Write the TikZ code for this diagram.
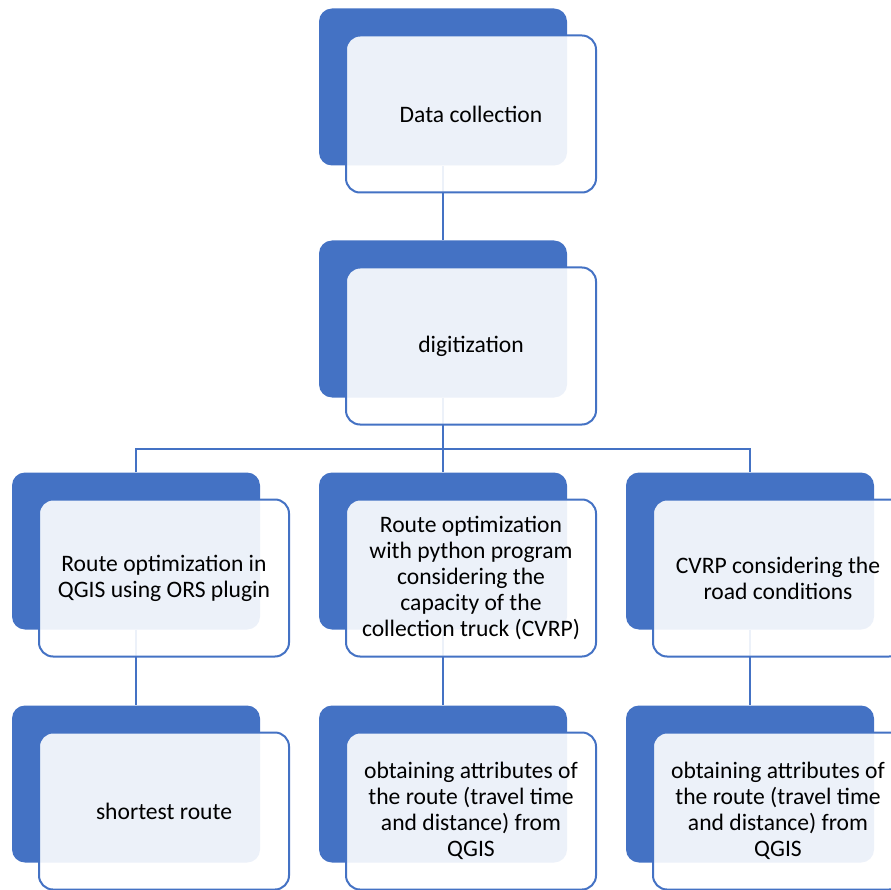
\documentclass[tikz,border=0pt]{standalone}
\usepackage{fontspec}
\setmainfont{Carlito}
\definecolor{smartblue}{HTML}{4472C4}

\begin{document}
\begin{tikzpicture}[x=1pt,y=-1pt]
\tikzstyle{every node}=[font=\fontsize{23.6}{26}\selectfont, align=center]
\tikzstyle{backbox}=[fill=smartblue, rounded corners=13pt, minimum width=248pt, minimum height=157pt, inner sep=0pt]
\tikzstyle{frontbox}=[draw=smartblue, line width=2pt, fill=white, fill opacity=0.9, text opacity=1, rounded corners=14pt, minimum width=250pt, minimum height=157pt, inner sep=0pt]
\tikzstyle{link}=[draw=smartblue, line width=2pt]
\useasboundingbox (0,0) rectangle (891,890);

\node[backbox] (collect-b) at (443,87) {};
\node[backbox] (digit-b) at (443,319) {};
\node[backbox] (qgis-b) at (136,551) {};
\node[backbox] (python-b) at (443,551) {};
\node[backbox] (road-b) at (750,551) {};
\node[backbox] (short-b) at (136,784) {};
\node[backbox] (attrpy-b) at (443,784) {};
\node[backbox] (attrroad-b) at (750,784) {};

\coordinate (fork) at (443,449);
\draw[link] (collect-b.south) -- (digit-b.north);
\draw[link] (digit-b.south) -- (fork);
\draw[link] (qgis-b.north) |- (fork) -| (road-b.north);
\draw[link] (fork) -- (python-b.north);
\draw[link] (qgis-b.south) -- (short-b.north);
\draw[link] (python-b.south) -- (attrpy-b.north);
\draw[link] (road-b.south) -- (attrroad-b.north);

\node[frontbox] (collect) at (471,114) {Data collection};
\node[frontbox] (digit) at (471,346) {digitization};
\node[frontbox] (qgis) at (164,578) {Route optimization in\\QGIS using ORS plugin};
\node[frontbox] (python) at (471,578) {Route optimization\\with python program\\considering the\\capacity of the\\collection truck (CVRP)};
\node[frontbox] (road) at (778,578) {CVRP considering the\\road conditions};
\node[frontbox] (short) at (164,811) {shortest route};
\node[frontbox] (attrpy) at (471,811) {obtaining attributes of\\the route (travel time\\and distance) from\\QGIS};
\node[frontbox] (attrroad) at (778,811) {obtaining attributes of\\the route (travel time\\and distance) from\\QGIS};

\end{tikzpicture}
\end{document}
